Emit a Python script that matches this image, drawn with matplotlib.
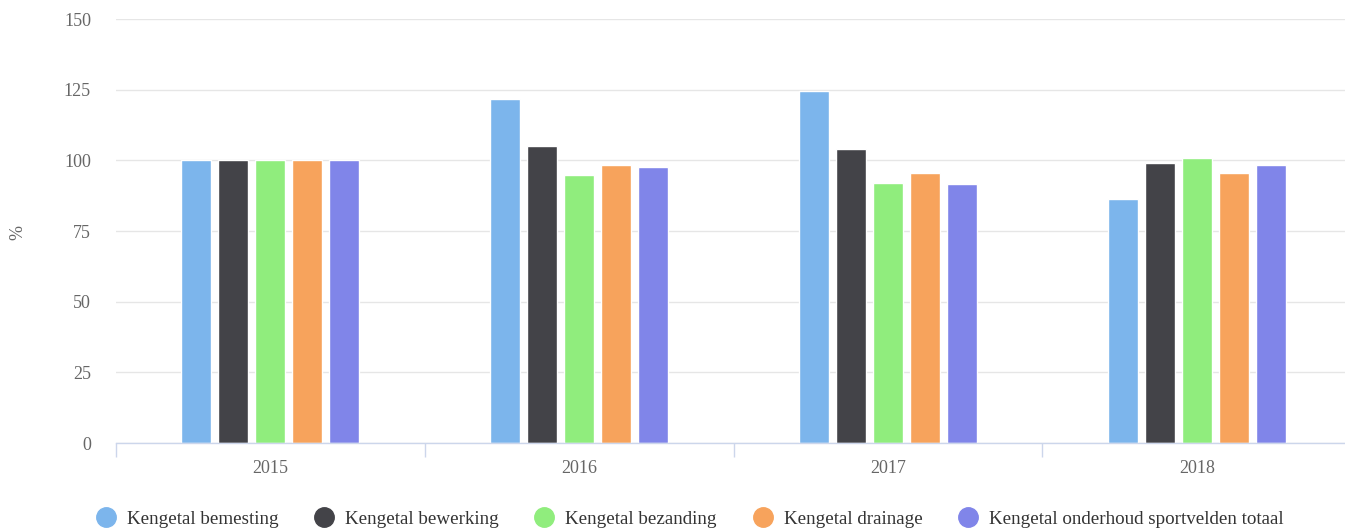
import matplotlib
matplotlib.use("Agg")
import matplotlib.pyplot as plt
from matplotlib.lines import Line2D
import numpy as np

years = ["2015", "2016", "2017", "2018"]
series_names = ["Kengetal bemesting", "Kengetal bewerking", "Kengetal bezanding",
                "Kengetal drainage", "Kengetal onderhoud sportvelden totaal"]
bemesting = [100, 121.7, 124.5, 86.3]
bewerking = [100, 105.2, 104.1, 98.9]
bezanding = [100, 94.9, 92.0, 100.8]
drainage = [100, 98.4, 95.5, 95.5]
sportvelden = [100, 97.8, 91.6, 98.4]
colors = ["#7cb5ec", "#434348", "#90ed7d", "#f7a35c", "#8085e9"]
yticks = [0, 25, 50, 75, 100, 125, 150]

plt.rcParams['font.family'] = ['Liberation Serif', 'DejaVu Serif']

W, H = 1345, 531
fig = plt.figure(figsize=(W / 100, H / 100), dpi=100)
cat_px = 308.8
ax = fig.add_axes([116 / W, (H - 443) / H, 4 * cat_px / W, (443 - 19) / H])

data = [bemesting, bewerking, bezanding, drainage, sportvelden]
x = np.arange(len(years))
step = 37 / cat_px
bw = 30 / cat_px
for i, (vals, c) in enumerate(zip(data, colors)):
    ax.bar(x + (i - 2) * step, vals, width=bw, color=c, edgecolor="white",
           linewidth=1, zorder=3)

ax.set_xlim(-0.5, len(years) - 0.5)
ax.set_ylim(0, 150)
ax.set_yticks(yticks)
ax.set_yticklabels([str(v) for v in yticks])
ax.grid(axis="y", color="#e6e6e6", linewidth=1, zorder=0)
ax.set_axisbelow(True)
for s in ["top", "right", "left"]:
    ax.spines[s].set_visible(False)
ax.spines["bottom"].set_color("#ccd6eb")
ax.spines["bottom"].set_linewidth(1)
ax.spines["bottom"].set_zorder(4)

ax.set_xticks(x)
ax.set_xticklabels(years)
ax.tick_params(axis="x", length=0, pad=12, labelsize=13, labelcolor="#666666")
ax.set_xticks(np.arange(-0.5, len(years), 1), minor=True)
ax.tick_params(axis="x", which="minor", length=10, color="#ccd6eb", width=1)
ax.tick_params(axis="y", length=0, pad=18, labelsize=13, labelcolor="#666666")
for lab in ax.get_yticklabels():
    lab.set_horizontalalignment("right")

fig.text(18 / W, (H - 232) / H, "%", rotation=90, ha="center", va="center",
         fontsize=13, color="#666666")

handles = [Line2D([], [], marker="o", linestyle="", markersize=14,
                  markerfacecolor=c, markeredgecolor=c) for c in colors]
fig.legend(handles, series_names, loc="center", bbox_to_anchor=(689 / W, (H - 519) / H),
           ncol=5, frameon=False, fontsize=13.7, labelcolor="#333333",
           handletextpad=0.5, columnspacing=1.8, handlelength=1.2,
           borderaxespad=0)

fig.savefig("out.png", dpi=100)
